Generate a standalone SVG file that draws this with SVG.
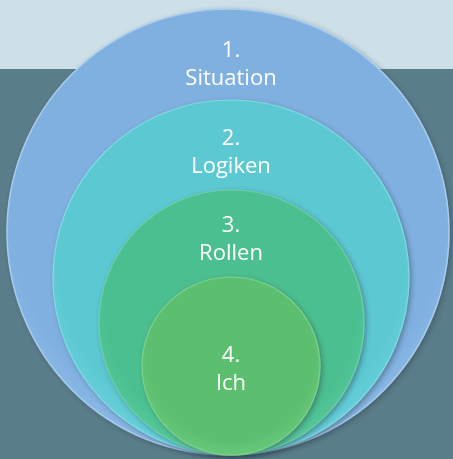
<svg xmlns="http://www.w3.org/2000/svg" width="453" height="459" viewBox="0 0 453 459">
<defs>
<filter id="sh" x="-10%" y="-10%" width="120%" height="120%">
<feDropShadow dx="2" dy="2" stdDeviation="2.5" flood-color="#2a3f48" flood-opacity="0.45"/>
</filter>
<radialGradient id="g1" cx="50%" cy="45%" r="55%">
<stop offset="0.9" stop-color="#80b0e0"/><stop offset="1" stop-color="#8ab9e6"/>
</radialGradient>
<radialGradient id="g2" cx="50%" cy="45%" r="55%">
<stop offset="0.88" stop-color="#5cc8d2"/><stop offset="1" stop-color="#66d0d8"/>
</radialGradient>
<radialGradient id="g3" cx="50%" cy="45%" r="55%">
<stop offset="0.86" stop-color="#4bbf8f"/><stop offset="1" stop-color="#55c79a"/>
</radialGradient>
<radialGradient id="g4" cx="50%" cy="45%" r="55%">
<stop offset="0.85" stop-color="#5bbf6f"/><stop offset="1" stop-color="#68c87a"/>
</radialGradient>
</defs>
<style>
.lbl{font-family:"Open Sans","Noto Sans",sans-serif;font-size:22px;fill:#ffffff;text-anchor:middle}
</style>
<rect x="0" y="0" width="453" height="69" fill="#cddfe7"/>
<rect x="0" y="69" width="453" height="390" fill="#5a7d8a"/>
<g id="circle1" filter="url(#sh)">
<ellipse cx="228" cy="232" rx="221" ry="223" fill="url(#g1)" stroke="#a9cdee" stroke-width="1.5"/>
<text class="lbl" x="231" y="57">1.<tspan x="231" dy="28">Situation</tspan></text>
</g>
<g id="circle2" filter="url(#sh)">
<ellipse cx="231" cy="277.5" rx="178" ry="177.5" fill="url(#g2)" stroke="#7fdbe3" stroke-width="1.2"/>
<text class="lbl" x="231" y="145">2.<tspan x="231" dy="28">Logiken</tspan></text>
</g>
<g id="circle3" filter="url(#sh)">
<circle cx="231.5" cy="322.5" r="132.5" fill="url(#g3)" stroke="#6fcfa6" stroke-width="1.2"/>
<text class="lbl" x="231" y="232">3.<tspan x="231" dy="28">Rollen</tspan></text>
</g>
<g id="circle4" filter="url(#sh)">
<circle cx="231" cy="366" r="89" fill="url(#g4)" stroke="#7ed28c" stroke-width="1.2"/>
<text class="lbl" x="231" y="362">4.<tspan x="231" dy="28">Ich</tspan></text>
</g>
<g id="connectors"/>
</svg>
